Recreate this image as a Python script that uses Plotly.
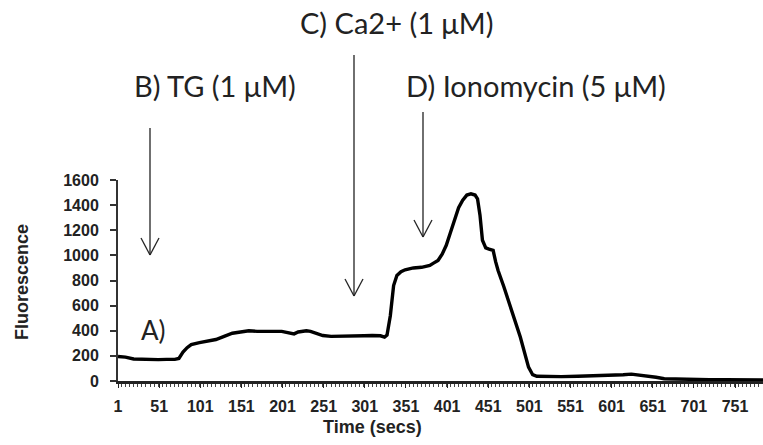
import plotly.graph_objects as go

# ---- data ----
time_s = [1, 10, 20, 30, 40, 50, 60, 70, 75, 80, 85, 90, 100, 110, 120, 130, 140, 150,
          160, 170, 180, 190, 200, 210, 215, 220, 230, 235, 240, 250, 260, 270, 280, 290,
          300, 310, 320, 325, 328, 332, 336, 340, 345, 350, 360, 370, 380, 385, 390, 395,
          400, 405, 410, 415, 420, 425, 430, 435, 438, 441, 444, 448, 452, 457, 460, 463,
          470, 480, 490, 500, 505, 510, 520, 540, 560, 580, 600, 615, 625, 635, 645, 655,
          665, 680, 700, 720, 740, 760, 785]
fluor = [195, 190, 175, 172, 172, 170, 172, 172, 180, 230, 265, 290, 305, 320, 330, 355, 380, 390,
         400, 395, 398, 395, 395, 380, 375, 390, 400, 395, 385, 362, 355, 358, 355, 360,
         360, 362, 360, 350, 365, 520, 760, 840, 870, 885, 900, 905, 920, 940, 960, 1010,
         1080, 1180, 1290, 1380, 1440, 1480, 1490, 1480, 1450, 1320, 1120, 1060, 1050, 1040, 950, 880,
         750, 560, 350, 110, 50, 38, 35, 35, 38, 40, 42, 50, 55, 48, 40, 30,
         18, 15, 12, 10, 10, 8, 8]

x_ticks = [1, 51, 101, 151, 201, 251, 301, 351, 401, 451, 501, 551, 601, 651, 701, 751]
y_ticks = [0, 200, 400, 600, 800, 1000, 1200, 1400, 1600]

labels = ["B) TG (1 μM)", "C) Ca2+ (1 μM)", "D) Ionomycin (5 μM)"]

# ---- layout geometry (pixels) ----
W, H = 763, 445
L, R, T, B = 118, 0, 180, 64
PW, PH = W - L - R, H - T - B

def px(x):
    return (x - L) / PW

def py(y):
    return (H - B - y) / PH

fig = go.Figure()
fig.add_trace(go.Scatter(x=time_s, y=fluor, mode="lines",
                         line=dict(color="black", width=3.4), showlegend=False,
                         hoverinfo="skip"))

shapes = []
# arrows: (x pixel, top pixel, tip pixel)
arrows = [(150, 128, 255), (354, 55, 296), (423, 112, 237)]
for ax_, top, tip in arrows:
    ln = dict(color="#222", width=1.3)
    shapes.append(dict(type="line", xref="paper", yref="paper",
                       x0=px(ax_), x1=px(ax_), y0=py(top), y1=py(tip), line=ln))
    shapes.append(dict(type="line", xref="paper", yref="paper",
                       x0=px(ax_ - 9), x1=px(ax_), y0=py(tip - 17), y1=py(tip), line=ln))
    shapes.append(dict(type="line", xref="paper", yref="paper",
                       x0=px(ax_ + 9), x1=px(ax_), y0=py(tip - 17), y1=py(tip), line=ln))

annos = []
lab_pos = [(215, 85), (396, 23), (536, 85)]
for txt, (xx, yy) in zip(labels, lab_pos):
    annos.append(dict(text=txt, xref="paper", yref="paper", x=px(xx), y=py(yy),
                      showarrow=False, xanchor="center", yanchor="middle",
                      font=dict(family="Lato", size=29, color="#222")))
annos.append(dict(text="A)", xref="paper", yref="paper", x=px(153), y=py(330),
                  showarrow=False, xanchor="center", yanchor="middle",
                  font=dict(family="Lato", size=26, color="#222")))
annos.append(dict(text="<b>Fluorescence</b>", xref="paper", yref="paper", x=px(22), y=py(282),
                  showarrow=False, textangle=-90, xanchor="center", yanchor="middle",
                  font=dict(family="Liberation Sans", size=18, color="#222")))
annos.append(dict(text="<b>Time (secs)</b>", xref="paper", yref="paper", x=px(372), y=py(427),
                  showarrow=False, xanchor="center", yanchor="middle",
                  font=dict(family="Liberation Sans", size=18, color="#222")))

fig.update_layout(
    width=W, height=H, margin=dict(l=L, r=R, t=T, b=B),
    paper_bgcolor="white", plot_bgcolor="white",
    shapes=shapes, annotations=annos,
    xaxis=dict(range=[1, 785], tickvals=x_ticks, ticktext=[str(v) for v in x_ticks],
               showgrid=False, zeroline=False, showline=True, linecolor="#222", linewidth=2.5,
               ticks="outside", ticklen=4, tickcolor="#222", tickwidth=1,
               minor=dict(ticks="outside", dtick=5, ticklen=3, tickcolor="#444", tickwidth=1),
               tickfont=dict(family="Liberation Sans", size=16, color="#222", weight="bold"),
               ticklabelstandoff=5),
    yaxis=dict(range=[0, 1600], tickvals=y_ticks, showgrid=False, zeroline=False,
               showline=True, linecolor="#333", linewidth=2,
               ticks="outside", ticklen=6, tickcolor="#333", tickwidth=2,
               tickfont=dict(family="Liberation Sans", size=16, color="#222", weight="bold"),
               ticklabelstandoff=8),
)

fig.write_html("out.html")
